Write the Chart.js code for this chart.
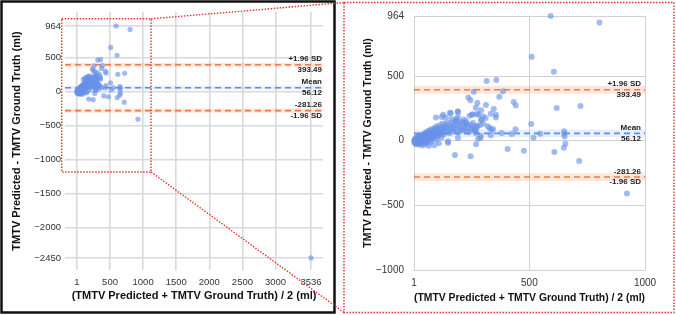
<!DOCTYPE html>
<html>
<head>
<meta charset="utf-8">
<script src="https://cdn.jsdelivr.net/npm/chart.js@4.4.1/dist/chart.umd.min.js"></script>
<style>
  html, body { margin: 0; padding: 0; background: #fff; }
  #wrap { position: relative; width: 676px; height: 315px; overflow: hidden; }
  canvas { position: absolute; top: 0; }
  #full { left: 0; }
  #zoom { left: 342px; }
</style>
</head>
<body>
<div id="wrap">
  <canvas id="full" width="676" height="315"></canvas>
  <canvas id="zoom" width="334" height="315"></canvas>
</div>
<script>
// Bland-Altman: mean of the two measurements (x) vs difference (y), ml
const avgVals = [
  592, 803, 510, 606, 315, 357, 386, 259, 370, 236, 245, 275, 432, 441, 618, 721, 268, 312, 346, 291,
  278, 333, 252, 508, 547, 518, 650, 651, 652, 424, 440, 269, 406, 476, 608, 656, 649, 715, 178, 246,
  922, 3536, 355, 355, 343, 268, 333, 299, 292, 225, 216, 184, 191, 160, 138, 121, 96, 328, 289, 289,
  241, 254, 275, 127, 156, 191, 191, 163, 184, 210, 230, 256, 273, 249, 228, 206, 292, 311, 268, 278,
  191, 148, 336,
  2, 3, 4, 5, 6, 7, 8, 9, 10, 11, 12, 13, 14, 15, 16, 17, 18, 19, 20, 21,
  22, 23, 24, 25, 26, 27, 28, 29, 30, 31, 32, 33, 34, 35, 36, 37, 38, 39, 40,
  41, 42, 43, 44, 45, 46, 47, 48, 49, 50, 51, 52, 53, 54, 55, 56, 57, 58, 59, 60,
  61, 62, 63, 64, 65, 66, 67, 68, 69, 70, 71, 72, 73, 74, 75, 76, 77, 78, 79, 80,
  82, 84, 86, 88, 89, 90, 92, 94, 96, 97, 98, 100, 102, 104, 106, 108, 110, 112, 114, 116,
  118, 120, 122, 124, 126, 128, 130,
  133, 136, 139, 142, 145, 148, 150, 153, 156, 160, 163, 166, 170, 173, 176, 180, 184, 188, 192, 196,
  200, 205, 210, 215, 220, 226, 232, 238, 244, 250, 258, 265, 272, 285, 300, 320, 380
];
const diffVals = [
  964, 913, 648, 532, 462, 470, 382, 379, 340, 333, 312, 292, 299, 271, 253, 268, 255, 276, 245, 235,
  201, 209, 201, 129, 54, 23, 72, 52, 33, 52, 88, -28, -65, -77, -88, -23, -54, -157, -111, -121,
  -408, -2450, 201, 180, 91, 80, 41, 188, 163, 137, 163, 168, 219, 214, 180, 183, 180, 98, 39, 21,
  193, 204, 209, 201, 214, 227, 183, 168, 149, 137, 124, 137, 116, 85, 72, 85, 157, 176, 60, 15,
  21, -5, 83,
  -5, 8, -15, 2, -22, 12, -8, 20, -2, -28, 6, 16, -12, 26, 0, -20, 10, 32, -6, 18,
  -30, 4, 24, -14, 38, 9, -24, 14, 30, -4, 20, 44, -10, 2, 28, -38, 14, 36, 6,
  48, -18, 22, 10, 34, -6, 56, 16, 28, -28, 40, 4, 62, 24, -12, 46, 12, 30, 70, -2,
  38, 20, 54, 8, -40, 44, 26, 78, 14, 60, 34, -10, 50, 22, 88, 40, 2, 66, 30, 52,
  18, 74, 44, -36, 96, 58, 28, 84, 48, 110, 10, 68, 36, 92, 54, -20, 78, 120, 42, 98,
  62, 24, 86, 130, 70, 104, 50,
  92, 118, 64, 140, 100, -18, 80, 126, 60, 110, 88, 140, 72, 120, 96, 150, 84, 116, 62, 130,
  100, 146, 78, 112, 92, 150, 104, 66, 124, 94, 110, 75, 100, 120, 130, 112, 60
];

// limits of agreement
const meanDiff = 56.12;
const upperLoA = 393.49;
const lowerLoA = -281.26;
const bandHalf = 30;

// axes
const fullXTicks = [1, 500, 1000, 1500, 2000, 2500, 3000, 3536];
const fullYTicks = [964, 500, 0, -500, -1000, -1500, -2000, -2450];
const zoomXTicks = [1, 500, 1000];
const zoomYTicks = [964, 500, 0, -500, -1000];
const zoomWindowX = [-230, 1120];
const zoomWindowY = [-1185, 1070];

const xTitle = "(TMTV Predicted + TMTV Ground Truth) / 2 (ml)";
const yTitle = "TMTV Predicted - TMTV Ground Truth (ml)";

const FONT = "'Liberation Sans', Arial, sans-serif";
const ORANGE = "#f07a45";
const BLUE = "#5b8ef0";
const DOT = "rgba(104, 146, 232, 0.62)";

const points = avgVals.map((x, i) => ({ x, y: diffVals[i] }));
const minus = (v) => (v < 0 ? "\u2212" + Math.abs(v) : String(v));

function limitLine(y, color, xmin, xmax) {
  return {
    data: [{ x: xmin, y }, { x: xmax, y }],
    showLine: true,
    borderColor: color,
    borderWidth: 1.6,
    borderDash: [6, 4],
    pointRadius: 0,
    clip: false,
  };
}

const limitsPlugin = {
  id: "limits",
  beforeDatasetsDraw(chart) {
    const { ctx, chartArea: a, scales: { y } } = chart;
    ctx.save();
    [[upperLoA, "rgba(247,160,120,0.28)"], [meanDiff, "rgba(120,160,240,0.18)"], [lowerLoA, "rgba(247,160,120,0.28)"]]
      .forEach(([v, c]) => {
        const t = y.getPixelForValue(v + bandHalf), b = y.getPixelForValue(v - bandHalf);
        ctx.fillStyle = c;
        ctx.fillRect(a.left, t, a.right - a.left, b - t);
      });
    ctx.restore();
  },
  afterDatasetsDraw(chart, args, opts) {
    const { ctx, chartArea: a, scales: { y } } = chart;
    ctx.save();
    ctx.font = "bold 8px " + FONT;
    ctx.fillStyle = "#222";
    ctx.textAlign = "right";
    ctx.textBaseline = "middle";
    const xr = a.right - opts.inset;
    const labels = [
      [upperLoA, "+1.96 SD", upperLoA.toFixed(2)],
      [meanDiff, "Mean", meanDiff.toFixed(2)],
      [lowerLoA, lowerLoA.toFixed(2), "-1.96 SD"],
    ];
    labels.forEach(([v, above, below]) => {
      const p = y.getPixelForValue(v);
      ctx.fillText(above, xr, p - 5.5);
      ctx.fillText(below, xr, p + 5);
    });
    ctx.restore();
  },
};

const framesPlugin = {
  id: "frames",
  afterDraw(chart) {
    const { ctx, scales: { x, y } } = chart;
    ctx.save();
    ctx.strokeStyle = "#111";
    ctx.lineWidth = 2.5;
    ctx.strokeRect(1.5, 1.5, 333, 311);
    const x0 = x.getPixelForValue(zoomWindowX[0]), x1 = x.getPixelForValue(zoomWindowX[1]);
    const y0 = y.getPixelForValue(zoomWindowY[1]), y1 = y.getPixelForValue(zoomWindowY[0]);
    ctx.strokeStyle = "#e3342f";
    ctx.lineWidth = 1.4;
    ctx.setLineDash([1.5, 1.5]);
    ctx.strokeRect(x0, y0, x1 - x0, y1 - y0);
    ctx.strokeRect(344, 2.5, 330, 310);
    ctx.beginPath();
    ctx.moveTo(x1, y0); ctx.lineTo(344, 2.5);
    ctx.moveTo(x1, y1); ctx.lineTo(344, 312.5);
    ctx.stroke();
    ctx.restore();
  },
};

function makeChart(el, cfg) {
  const xmin = cfg.xRange[0], xmax = cfg.xRange[1];
  return new Chart(el, {
    type: "scatter",
    data: {
      datasets: [
        { data: points, backgroundColor: DOT, borderColor: DOT, borderWidth: 0, pointRadius: cfg.r, clip: false },
        limitLine(meanDiff, BLUE, xmin, xmax),
        limitLine(upperLoA, ORANGE, xmin, xmax),
        limitLine(lowerLoA, ORANGE, xmin, xmax),
      ],
    },
    options: {
      responsive: false,
      animation: false,
      devicePixelRatio: 1,
      layout: { padding: cfg.pad },
      plugins: { legend: { display: false }, tooltip: { enabled: false }, limits: { inset: cfg.inset } },
      scales: {
        x: {
          type: "linear",
          min: xmin,
          max: xmax,
          afterBuildTicks: (s) => { s.ticks = cfg.xTicks.map((v) => ({ value: v })); },
          afterFit: (s) => { s.height = cfg.xh; },
          border: { display: false },
          grid: { color: cfg.grid, lineWidth: cfg.gw, drawTicks: false },
          ticks: { padding: 7, color: "#333", font: { family: FONT, size: cfg.tick }, maxRotation: 0, autoSkip: false, callback: (v) => String(v) },
          title: { display: true, text: xTitle, color: "#111", padding: 0, font: { family: FONT, size: cfg.title, weight: "bold" } },
        },
        y: {
          type: "linear",
          min: cfg.yRange[0],
          max: cfg.yRange[1],
          afterBuildTicks: (s) => { s.ticks = cfg.yTicks.map((v) => ({ value: v })); },
          afterFit: (s) => { s.width = cfg.yw; },
          border: { display: false },
          grid: { color: cfg.grid, lineWidth: cfg.gw, drawTicks: false },
          ticks: { padding: cfg.ypad, color: "#333", font: { family: FONT, size: cfg.tick }, callback: minus, autoSkip: false },
          title: { display: true, text: yTitle, color: "#111", padding: { top: cfg.ytp, bottom: 0 }, font: { family: FONT, size: cfg.title, weight: "bold" } },
        },
      },
    },
    plugins: cfg.plugins,
  });
}

makeChart(document.getElementById("full"), {
  xRange: [-180, 3717],
  yRange: [-2627, 1170],
  xTicks: fullXTicks,
  yTicks: fullYTicks,
  r: 2.6,
  pad: { left: 4, right: 353, top: 12, bottom: 12 },
  xh: 33,
  yw: 61,
  ypad: 4,
  ytp: 6.4,
  tick: 9.5,
  title: 11,
  grid: "#d9d9d9",
  gw: 1.6,
  inset: 1,
  plugins: [limitsPlugin, framesPlugin],
});

makeChart(document.getElementById("zoom"), {
  xRange: [1, 1000],
  yRange: [-1000, 964],
  xTicks: zoomXTicks,
  yTicks: zoomYTicks,
  r: 3,
  pad: { left: 4, right: 31, top: 16, bottom: 10.7 },
  xh: 34.3,
  yw: 68,
  ypad: 10,
  ytp: 15.7,
  tick: 10,
  title: 10.5,
  grid: "#d2d2d2",
  gw: 1,
  inset: 4,
  plugins: [limitsPlugin],
});
</script>
</body>
</html>
